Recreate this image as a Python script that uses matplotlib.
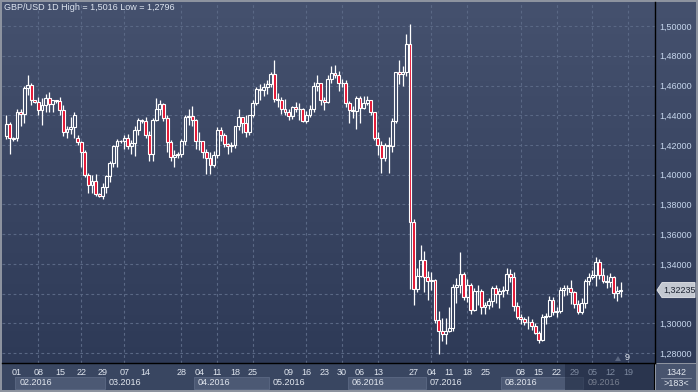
import numpy as np
import pandas as pd
import matplotlib
matplotlib.use("Agg")
import matplotlib.pyplot as plt
from matplotlib.patches import Rectangle, Polygon
from matplotlib.transforms import blended_transform_factory

plt.rcParams['font.family'] = ['Liberation Sans', 'DejaVu Sans']

# --- data: GBP/USD daily bars (broker feed has small Sunday bars until mid-March) ---
weekdays = pd.bdate_range("2016-01-28", "2016-09-15")
sundays = pd.date_range("2016-01-31", "2016-03-13", freq="W-SUN")
bar_dates = weekdays.union(sundays)

opens = [
    1.4260, 1.4340, 1.4240, 1.4250, 1.4425, 1.4410, 1.4580, 1.4605, 1.4500, 1.4490,
    1.4435, 1.4470, 1.4515, 1.4475, 1.4500, 1.4495, 1.4435, 1.4285, 1.4305, 1.4320,
    1.4250, 1.4220, 1.4150, 1.4000, 1.3930, 1.3960, 1.3870, 1.3860, 1.3915, 1.3990,
    1.4080, 1.4190, 1.4230, 1.4225, 1.4245, 1.4195, 1.4210, 1.4300, 1.4370, 1.4360,
    1.4270, 1.4140, 1.4370, 1.4445, 1.4475, 1.4380, 1.4220, 1.4120, 1.4130, 1.4140,
    1.4225, 1.4390, 1.4395, 1.4370, 1.4225, 1.4225, 1.4150, 1.4110, 1.4065, 1.4130,
    1.4300, 1.4270, 1.4205, 1.4190, 1.4200, 1.4325, 1.4385, 1.4345, 1.4285, 1.4400,
    1.4485, 1.4575, 1.4570, 1.4590, 1.4610, 1.4675, 1.4510, 1.4500, 1.4445, 1.4420,
    1.4395, 1.4455, 1.4445, 1.4440, 1.4360, 1.4400, 1.4445, 1.4595, 1.4615, 1.4500,
    1.4490, 1.4645, 1.4685, 1.4670, 1.4620, 1.4620, 1.4485, 1.4435, 1.4430, 1.4515,
    1.4450, 1.4480, 1.4500, 1.4420, 1.4250, 1.4200, 1.4115, 1.4200, 1.4195, 1.4360,
    1.4690, 1.4680, 1.4690, 1.4880, 1.3680, 1.3230, 1.3320, 1.3425, 1.3310, 1.3285,
    1.3290, 1.3020, 1.2950, 1.2930, 1.2950, 1.2970, 1.3245, 1.3260, 1.3330, 1.3180,
    1.3260, 1.3090, 1.3220, 1.3220, 1.3110, 1.3120, 1.3150, 1.3240, 1.3200, 1.3220,
    1.3225, 1.3335, 1.3315, 1.3115, 1.3045, 1.3030, 1.3010, 1.3010, 1.2980, 1.2935,
    1.2885, 1.3040, 1.3050, 1.3160, 1.3075, 1.3080, 1.3225, 1.3240, 1.3240, 1.3210,
    1.3130, 1.3075, 1.3135, 1.3285, 1.3315, 1.3325, 1.3415, 1.3325, 1.3285, 1.3275,
    1.3315, 1.3205, 1.3215,
]
highs = [
    1.4400, 1.4355, 1.4255, 1.4445, 1.4445, 1.4595, 1.4670, 1.4615, 1.4505, 1.4525,
    1.4515, 1.4540, 1.4555, 1.4505, 1.4505, 1.4520, 1.4470, 1.4330, 1.4390, 1.4420,
    1.4270, 1.4230, 1.4165, 1.4010, 1.3995, 1.4005, 1.3880, 1.3945, 1.4000, 1.4090,
    1.4200, 1.4240, 1.4235, 1.4270, 1.4275, 1.4235, 1.4325, 1.4380, 1.4375, 1.4385,
    1.4295, 1.4380, 1.4515, 1.4505, 1.4480, 1.4400, 1.4235, 1.4165, 1.4155, 1.4240,
    1.4400, 1.4440, 1.4460, 1.4375, 1.4285, 1.4230, 1.4175, 1.4150, 1.4160, 1.4320,
    1.4320, 1.4280, 1.4215, 1.4220, 1.4330, 1.4440, 1.4390, 1.4400, 1.4405, 1.4500,
    1.4590, 1.4610, 1.4620, 1.4640, 1.4690, 1.4770, 1.4550, 1.4525, 1.4510, 1.4445,
    1.4460, 1.4490, 1.4480, 1.4450, 1.4430, 1.4470, 1.4625, 1.4670, 1.4620, 1.4520,
    1.4670, 1.4730, 1.4735, 1.4700, 1.4645, 1.4635, 1.4495, 1.4460, 1.4530, 1.4530,
    1.4530, 1.4530, 1.4505, 1.4425, 1.4285, 1.4225, 1.4210, 1.4255, 1.4380, 1.4690,
    1.4770, 1.4730, 1.4945, 1.5016, 1.3705, 1.3370, 1.3525, 1.3485, 1.3355, 1.3345,
    1.3300, 1.3080, 1.3035, 1.3035, 1.3110, 1.3265, 1.3305, 1.3480, 1.3345, 1.3295,
    1.3270, 1.3240, 1.3260, 1.3230, 1.3145, 1.3170, 1.3250, 1.3255, 1.3235, 1.3250,
    1.3370, 1.3365, 1.3345, 1.3145, 1.3060, 1.3040, 1.3050, 1.3030, 1.3000, 1.2950,
    1.3060, 1.3070, 1.3185, 1.3175, 1.3110, 1.3245, 1.3260, 1.3260, 1.3290, 1.3215,
    1.3155, 1.3170, 1.3295, 1.3340, 1.3360, 1.3445, 1.3435, 1.3375, 1.3325, 1.3340,
    1.3320, 1.3250, 1.3275,
]
lows = [
    1.4240, 1.4140, 1.4230, 1.4230, 1.4330, 1.4350, 1.4535, 1.4470, 1.4480, 1.4400,
    1.4335, 1.4420, 1.4420, 1.4420, 1.4485, 1.4405, 1.4260, 1.4245, 1.4275, 1.4250,
    1.4200, 1.4055, 1.3985, 1.3880, 1.3880, 1.3860, 1.3850, 1.3835, 1.3880, 1.3950,
    1.4050, 1.4055, 1.4215, 1.4170, 1.4170, 1.4140, 1.4125, 1.4270, 1.4350, 1.4250,
    1.4090, 1.4090, 1.4360, 1.4405, 1.4360, 1.4150, 1.4095, 1.4055, 1.4115, 1.4120,
    1.4200, 1.4335, 1.4325, 1.4175, 1.4165, 1.4110, 1.4005, 1.4005, 1.4050, 1.4115,
    1.4225, 1.4185, 1.4140, 1.4150, 1.4180, 1.4300, 1.4280, 1.4255, 1.4265, 1.4385,
    1.4470, 1.4505, 1.4530, 1.4545, 1.4590, 1.4490, 1.4455, 1.4410, 1.4405, 1.4370,
    1.4375, 1.4420, 1.4365, 1.4355, 1.4350, 1.4385, 1.4420, 1.4560, 1.4470, 1.4435,
    1.4480, 1.4615, 1.4650, 1.4565, 1.4590, 1.4455, 1.4350, 1.4380, 1.4310, 1.4350,
    1.4440, 1.4470, 1.4400, 1.4235, 1.4135, 1.4010, 1.4090, 1.4010, 1.4155, 1.4350,
    1.4610, 1.4595, 1.4665, 1.3229, 1.3120, 1.3210, 1.3315, 1.3210, 1.3160, 1.3225,
    1.3000, 1.2796, 1.2880, 1.2860, 1.2940, 1.2950, 1.3135, 1.3205, 1.3155, 1.3145,
    1.3060, 1.3085, 1.3120, 1.3060, 1.3060, 1.3095, 1.3110, 1.3140, 1.3105, 1.3180,
    1.3200, 1.3280, 1.3085, 1.3030, 1.2995, 1.2990, 1.2965, 1.2955, 1.2925, 1.2865,
    1.2880, 1.2995, 1.3040, 1.3055, 1.3045, 1.3070, 1.3185, 1.3190, 1.3130, 1.3100,
    1.3060, 1.3060, 1.3100, 1.3255, 1.3300, 1.3250, 1.3300, 1.3270, 1.3235, 1.3245,
    1.3170, 1.3150, 1.3175,
]
closes = [
    1.4340, 1.4245, 1.4250, 1.4425, 1.4410, 1.4580, 1.4605, 1.4500, 1.4490, 1.4435,
    1.4470, 1.4515, 1.4475, 1.4500, 1.4495, 1.4435, 1.4285, 1.4305, 1.4320, 1.4400,
    1.4220, 1.4150, 1.4000, 1.3930, 1.3960, 1.3870, 1.3860, 1.3915, 1.3990, 1.4080,
    1.4190, 1.4230, 1.4225, 1.4245, 1.4195, 1.4210, 1.4300, 1.4370, 1.4360, 1.4270,
    1.4140, 1.4370, 1.4445, 1.4475, 1.4380, 1.4220, 1.4120, 1.4130, 1.4140, 1.4225,
    1.4390, 1.4395, 1.4370, 1.4225, 1.4225, 1.4150, 1.4110, 1.4065, 1.4130, 1.4300,
    1.4270, 1.4205, 1.4190, 1.4200, 1.4325, 1.4385, 1.4345, 1.4285, 1.4400, 1.4485,
    1.4575, 1.4570, 1.4590, 1.4610, 1.4675, 1.4510, 1.4500, 1.4445, 1.4420, 1.4395,
    1.4455, 1.4445, 1.4440, 1.4360, 1.4400, 1.4445, 1.4595, 1.4615, 1.4500, 1.4490,
    1.4645, 1.4685, 1.4670, 1.4620, 1.4620, 1.4485, 1.4435, 1.4430, 1.4515, 1.4450,
    1.4480, 1.4500, 1.4420, 1.4250, 1.4200, 1.4115, 1.4200, 1.4195, 1.4360, 1.4690,
    1.4680, 1.4690, 1.4880, 1.3680, 1.3230, 1.3320, 1.3425, 1.3310, 1.3285, 1.3290,
    1.3020, 1.2950, 1.2930, 1.2950, 1.2970, 1.3245, 1.3260, 1.3330, 1.3180, 1.3260,
    1.3090, 1.3220, 1.3220, 1.3110, 1.3120, 1.3150, 1.3240, 1.3200, 1.3220, 1.3225,
    1.3335, 1.3315, 1.3115, 1.3045, 1.3030, 1.3010, 1.3010, 1.2980, 1.2935, 1.2885,
    1.3040, 1.3050, 1.3160, 1.3075, 1.3080, 1.3225, 1.3240, 1.3240, 1.3210, 1.3130,
    1.3075, 1.3135, 1.3285, 1.3315, 1.3325, 1.3415, 1.3325, 1.3285, 1.3275, 1.3315,
    1.3205, 1.3215, 1.32235,
]

price_levels = [1.28, 1.30, 1.32, 1.34, 1.36, 1.38, 1.40, 1.42, 1.44, 1.46, 1.48, 1.50]
day_ticks = ["2016-02-01", "2016-02-08", "2016-02-15", "2016-02-22", "2016-02-29",
             "2016-03-07", "2016-03-14", "2016-03-28", "2016-04-04", "2016-04-11",
             "2016-04-18", "2016-04-25", "2016-05-09", "2016-05-16", "2016-05-23",
             "2016-05-30", "2016-06-06", "2016-06-13", "2016-06-27", "2016-07-04",
             "2016-07-11", "2016-07-18", "2016-07-25", "2016-08-08", "2016-08-15",
             "2016-08-22", "2016-08-29", "2016-09-05", "2016-09-12", "2016-09-19"]
title = "GBP/USD 1D High = 1,5016 Low = 1,2796"
corner_top, corner_bottom = "1342", ">183<"
counter = "9"

# bars ahead of the last one (empty future slots on the axis)
future = pd.bdate_range("2016-09-16", "2016-09-30")
all_dates = pd.DatetimeIndex(list(bar_dates) + list(future))
pos = {d.strftime("%Y-%m-%d"): i for i, d in enumerate(all_dates)}

o = np.array(opens); h = np.array(highs); l = np.array(lows); c = np.array(closes)
x = np.arange(len(o))
last = c[-1]

W, H = 698, 392
def rect(x0, y0, x1, y1):
    return [x0 / W, 1 - y1 / H, (x1 - x0) / W, (y1 - y0) / H]

fig = plt.figure(figsize=(W / 100, H / 100), dpi=100, facecolor='#8d939f')

grad = np.linspace(0, 1, 256).reshape(-1, 1)
bg_cmap = matplotlib.colors.LinearSegmentedColormap.from_list('bg', ['#45516e', '#2e3a57'])

# right price panel background
axr = fig.add_axes(rect(656, 2, 696, 363))
axr.imshow(grad, aspect='auto', cmap=bg_cmap, extent=[0, 1, 0, 1], origin='upper')
axr.set_axis_off()

ax = fig.add_axes(rect(2, 2, 655, 363))
ax.set_zorder(2)
ax.imshow(grad, aspect='auto', cmap=bg_cmap, extent=[0, 1, 0, 1], origin='upper',
          transform=ax.transAxes, zorder=0)

# about 3.57 px per bar; 1 Feb sits at pixel 17
x0_lim, x1_lim = -1.2, 181.56
ax.set_xlim(x0_lim, x1_lim)
ax.set_ylim(1.2733, 1.5162)

# grid
for p in price_levels:
    ax.axhline(p, color='#5a6885', lw=0.8, ls=(0, (2.5, 2.5)), zorder=1)
for d in day_ticks[1::2]:
    ax.axvline(pos[d], color='#5a6885', lw=0.8, ls=(0, (2.5, 2.5)), zorder=1)

# candles
up = c >= o
body_lo = np.minimum(o, c)
body_hi = np.maximum(o, c)
ax.vlines(x, body_hi, h, color='white', lw=0.9, zorder=3)
ax.vlines(x, l, body_lo, color='white', lw=0.9, zorder=3)
face = np.where(up, 'none', '#e3102f')
ax.bar(x, body_hi - body_lo, bottom=body_lo, width=0.8, color=face,
       edgecolor='white', linewidth=0.8, zorder=4)

ax.set_xticks([])
ax.yaxis.tick_right()
ax.set_yticks(price_levels)
# the level under the price tag is hidden by the tag
ax.set_yticklabels(["" if abs(p - last) < 0.008 else f"{p:.5f}".replace('.', ',')
                    for p in price_levels])
ax.tick_params(axis='y', length=0, pad=3, labelsize=6.5, labelcolor='#c6d6ec')
for s in ['left', 'top']:
    ax.spines[s].set_visible(False)
for s in ['right', 'bottom']:
    ax.spines[s].set_color('black')
    ax.spines[s].set_linewidth(1.0)

fig.text(4 / W, 1 - 8 / H, title, fontsize=6.5, color='#dde4ef', va='center', ha='left')

# bottom date band
axb = fig.add_axes(rect(2, 364, 655, 390))
axb.set_xlim(x0_lim, x1_lim)
axb.set_ylim(0, 1)
axb.set_facecolor('#394661')
axb.set_xticks([]); axb.set_yticks([])
for s in axb.spines.values():
    s.set_visible(False)

months = pd.date_range("2016-02-01", "2016-09-01", freq="MS")
for k, m in enumerate(months):
    start = all_dates.searchsorted(m)
    end = all_dates.searchsorted(months[k + 1]) if k + 1 < len(months) else x1_lim + 0.5
    if k % 2 == 0:
        axb.add_patch(Rectangle((start - 0.5, 0.02), end - start, 0.48, facecolor='#4c5974',
                                edgecolor='#5c6984', lw=0.6))
    axb.text(start + 0.6, 0.27, m.strftime("%m.%Y"), fontsize=6.5, color='#e2e7ef',
             va='center', ha='left')

dim_start = pos["2016-08-25"] - 0.5
axb.add_patch(Rectangle((dim_start, 0), x1_lim - dim_start, 1, facecolor='#1e2840',
                        alpha=0.55, lw=0, zorder=5))
for d in day_ticks:
    i = pos[d]
    col = '#7c889e' if i > dim_start else '#dfe5ee'
    axb.text(i, 0.66, d[-2:], fontsize=6.5, color=col, ha='center', va='center', zorder=6)
axb.axvline(x1_lim, color='black', lw=1.5, zorder=7)

# bottom right corner cell
axc = fig.add_axes(rect(656, 364, 696, 390))
axc.set_facecolor('#48546e')
axc.set_xlim(0, 1); axc.set_ylim(0, 1)
axc.set_xticks([]); axc.set_yticks([])
for s in axc.spines.values():
    s.set_visible(False)
axc.text(0.5, 0.69, corner_top, fontsize=6.5, color='#e2e7ef', ha='center', va='center')
axc.plot([0.12, 0.88], [0.48, 0.48], color='#8b95a9', lw=0.6)
axc.text(0.5, 0.26, corner_bottom, fontsize=6.5, color='#e2e7ef', ha='center', va='center')

# current price tag
bt = blended_transform_factory(fig.transFigure, ax.transData)
dh = 7.5 / 1482
tag = Polygon([(657 / W, last), (662 / W, last + dh), (695 / W, last + dh),
               (695 / W, last - dh), (662 / W, last - dh)], closed=True,
              transform=bt, facecolor='#c3c8d1', edgecolor='#e6e8ec', lw=0.6, zorder=5)
fig.add_artist(tag)
fig.text(663 / W, last, f"{last:.5f}".replace('.', ','), transform=bt, fontsize=6.5,
         color='#1d2433', va='center', ha='left', zorder=6)

# small bar counter marker
fig.add_artist(Polygon([(615 / W, 1 - 361 / H), (618 / W, 1 - 356 / H), (621 / W, 1 - 361 / H)],
                       closed=True, facecolor='#5a6680', lw=0, zorder=5))
fig.text(627 / W, 1 - 357 / H, counter, fontsize=6.5, color='#e2e7ef', ha='center',
         va='center', zorder=6)

fig.savefig("out.png", dpi=100, facecolor=fig.get_facecolor())
